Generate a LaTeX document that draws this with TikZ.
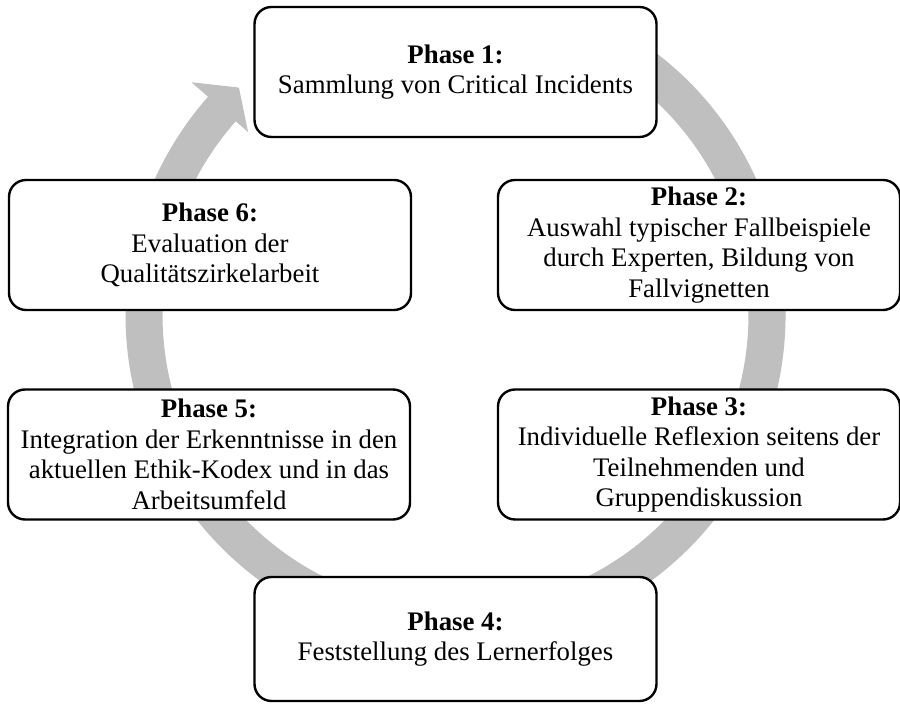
\documentclass[tikz,border=0pt]{standalone}
\usepackage{fontspec}
\setmainfont{Liberation Serif}
\usepackage{tikz}
\usetikzlibrary{calc}
\definecolor{ringgray}{RGB}{191,191,191}
\newcommand{\Phase}[2]{\textbf{Phase #1:}\\#2}

\begin{document}
\begin{tikzpicture}[x=0.5pt, y=-0.5pt,
    phase/.style={draw, line width=1.2pt, rounded corners=8.5pt, fill=white, align=center,
      minimum width=201pt, minimum height=65pt, inner sep=0pt,
      font=\fontsize{13.4}{15.25}\selectfont}]

    \useasboundingbox (0,0) rectangle (900,704);

    \coordinate (C) at (455.5,315);
    % grey ring with its head
    \fill[ringgray] ($(C)+(-60:330)$) arc[start angle=-60, end angle=221.4, radius=330]
      -- ($(C)+(221.4:352)$) -- ($(C)+(226.4:314)$) -- ($(C)+(221.4:276.5)$)
      -- ($(C)+(221.4:293)$) arc[start angle=221.4, end angle=-60, radius=293] -- cycle;

    \draw(455.5,72) node[phase] (P1) {\Phase{1}{Sammlung von Critical Incidents}};
    \draw(699,245) node[phase] (P2) {\Phase{2}{Auswahl typischer Fallbeispiele\\durch Experten, Bildung von\\Fallvignetten}};
    \draw(699,454.5) node[phase] (P3) {\Phase{3}{Individuelle Reflexion seitens der\\Teilnehmenden und\\Gruppendiskussion}};
    \draw(455.5,639) node[phase, minimum height=62pt] (P4) {\Phase{4}{Feststellung des Lernerfolges}};
    \draw(209,454.5) node[phase] (P5) {\Phase{5}{Integration der Erkenntnisse in den\\aktuellen Ethik-Kodex und in das\\Arbeitsumfeld}};
    \draw(210,245) node[phase] (P6) {\Phase{6}{Evaluation der\\Qualitätszirkelarbeit}};

\end{tikzpicture}
\end{document}
